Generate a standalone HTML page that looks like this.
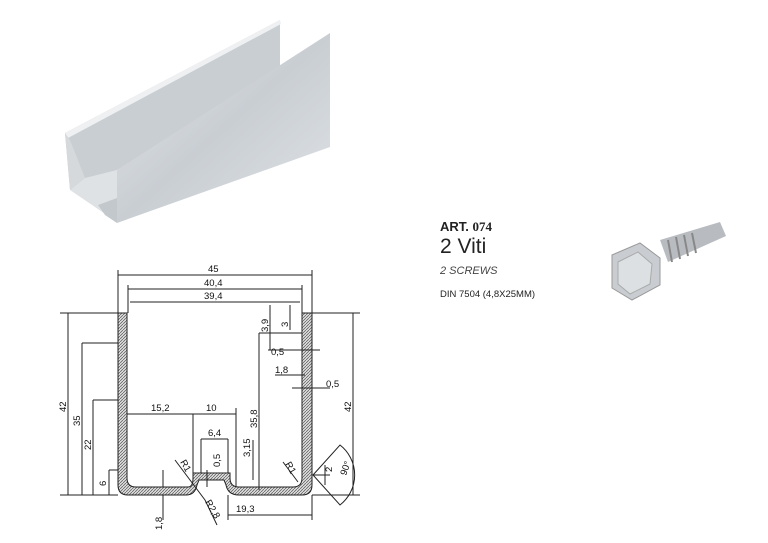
<!DOCTYPE html>
<html><head><meta charset="utf-8"><style>
body{margin:0;width:768px;height:543px;background:#fff;overflow:hidden;position:relative;font-family:"Liberation Sans",sans-serif}
.t{position:absolute;color:#222;white-space:nowrap}
</style></head><body>
<svg width="768" height="543" style="position:absolute;left:0;top:0">
<defs>
<linearGradient id="g1" x1="0" y1="0" x2="1" y2="1"><stop offset="0" stop-color="#e4e7ea"/><stop offset="0.5" stop-color="#c9ced3"/><stop offset="1" stop-color="#dfe3e6"/></linearGradient>
<pattern id="hat" width="3" height="3" patternUnits="userSpaceOnUse"><rect width="3" height="3" fill="#ddd"/><path d="M0 3L3 0" stroke="#555" stroke-width="0.7"/></pattern>
</defs>
<!-- channel 3D -->
<polygon points="65,133 280,20 280,75 117,170 70,190" fill="#c9ced3"/>
<polygon points="65,133 280,20 281,24 68,138" fill="#eef0f2"/>
<polygon points="70,190 117,222 117,170 85,178" fill="#dfe2e5"/>
<polygon points="65,133 70,190 85,178 70,140" fill="#d5d9dc"/>
<polygon points="117,170 330,33 330,147 117,223" fill="url(#g1)"/>
<polygon points="98,205 117,198 117,223 105,215" fill="#c3c8cd"/>
<!-- section drawing -->
<g stroke="#222" stroke-width="1" fill="none">
<path d="M118,313 H127 V478 Q127,487 136,487 H188 Q193,487 193,478 V473 H230 V478 Q230,487 239,487 H293 Q302,487 302,478 V313 H312 V485 Q312,495 302,495 H239 Q228,495 226,485 L224,480 H199 L197,485 Q195,495 186,495 H128 Q118,495 118,485 Z" fill="url(#hat)"/>
<path d="M118,275H312M128,289H302M130,302H300M118,270V313M312,270V313M128,285V313M302,285V313"/>
<path d="M68,313V495M82,343V495M93,400V495M109,470V495M60,313H118M60,495H118M82,343H118M93,400H118M109,470H118"/>
<path d="M353,313V495M312,313H360M312,495H360"/>
<path d="M127,414H236M193,414V473M236,408V487M201,439H228M201,439V473M228,439V473"/>
<path d="M259,333V490M253,440V480M259,333H302M270,305V350M290,305V330M268,350H320M275,375H305M292,388H330M228,515H312M228,495V520M312,495V520M163,495V520M163,470V487M207,470V487"/>
<path d="M175,460L205,500L217,525M283,462L298,482"/>
<path d="M313,475L340,445A38,38 0 0 1 340,505Z"/>
<path d="M313,475H330M325,465V485"/>
</g>
<g font-family="Liberation Sans" font-size="9.5" fill="#111">
<text x="208" y="272">45</text><text x="204" y="286">40,4</text><text x="204" y="299">39,4</text>
<text x="151" y="411">15,2</text><text x="206" y="411">10</text><text x="208" y="436">6,4</text>
<text x="236" y="512">19,3</text><text x="326" y="387">0,5</text><text x="275" y="373">1,8</text><text x="271" y="355">0,5</text>
<text transform="translate(66,412) rotate(-90)">42</text><text transform="translate(80,426) rotate(-90)">35</text>
<text transform="translate(91,450) rotate(-90)">22</text><text transform="translate(106,486) rotate(-90)">6</text>
<text transform="translate(351,412) rotate(-90)">42</text><text transform="translate(257,428) rotate(-90)">35,8</text>
<text transform="translate(250,457) rotate(-90)">3,15</text><text transform="translate(220,467) rotate(-90)">0,5</text>
<text transform="translate(268,332) rotate(-90)">3,9</text><text transform="translate(288,327) rotate(-90)">3</text>
<text transform="translate(162,530) rotate(-90)">1,8</text><text transform="translate(332,472) rotate(-90)">2</text>
<text transform="translate(346,476) rotate(-70)">90°</text>
<text transform="translate(180,462) rotate(60)">R1</text><text transform="translate(285,464) rotate(60)">R1</text>
<text transform="translate(205,502) rotate(60)">R2,8</text>
</g>
<!-- screw -->
<polygon points="660,240 720,222 726,236 668,262" fill="#b8bcc0"/>
<g stroke="#888" stroke-width="2"><path d="M668,240L672,262M676,237L680,259M684,235L688,256M692,233L696,253"/></g>
<polygon points="612,255 640,243 660,258 660,285 632,300 612,288" fill="#c9cdd1" stroke="#999"/>
<polygon points="618,262 638,252 652,264 650,284 630,294 618,284" fill="#dde0e3" stroke="#aaa"/>
</svg>
<div class="t" style="left:440px;top:219px;font-size:13px;font-weight:bold">ART. <span style="font-family:'Liberation Serif'">074</span></div>
<div class="t" style="left:440px;top:235px;font-size:21px">2 Viti</div>
<div class="t" style="left:440px;top:265px;font-size:11px;font-style:italic;color:#444">2 SCREWS</div>
<div class="t" style="left:440px;top:289px;font-size:9.5px">DIN 7504 (4,8X25MM)</div>
</body></html>
